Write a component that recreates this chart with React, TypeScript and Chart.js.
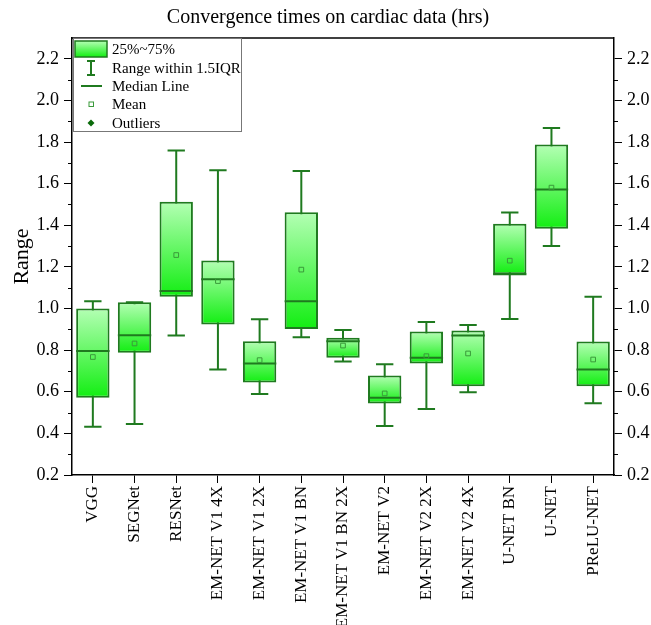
import React, { useEffect, useRef } from "react";
import { Chart, registerables } from "chart.js";

Chart.register(...registerables);

const categories = [
  "VGG", "SEGNet", "RESNet", "EM-NET V1 4X", "EM-NET V1 2X", "EM-NET V1 BN",
  "EM-NET V1 BN 2X", "EM-NET V2", "EM-NET V2 2X", "EM-NET V2 4X", "U-NET BN", "U-NET", "PReLU-NET",
];
const whiskerLow = [0.432, 0.445, 0.870, 0.707, 0.589, 0.862, 0.745, 0.436, 0.517, 0.598, 0.95, 1.30, 0.545];
const q1 = [0.571, 0.788, 1.057, 0.923, 0.645, 0.902, 0.763, 0.544, 0.736, 0.627, 1.165, 1.383, 0.627];
const medians = [0.796, 0.871, 1.084, 1.141, 0.736, 1.035, 0.843, 0.571, 0.763, 0.870, 1.165, 1.572, 0.707];
const means = [0.767, 0.832, 1.257, 1.132, 0.752, 1.187, 0.822, 0.592, 0.771, 0.784, 1.23, 1.581, 0.755];
const q3 = [1.0, 1.03, 1.513, 1.231, 0.843, 1.463, 0.860, 0.678, 0.889, 0.894, 1.407, 1.788, 0.841];
const whiskerHigh = [1.035, 1.03, 1.759, 1.664, 0.948, 1.661, 0.897, 0.732, 0.935, 0.921, 1.461, 1.868, 1.057];
const yTicks = [0.2, 0.4, 0.6, 0.8, 1.0, 1.2, 1.4, 1.6, 1.8, 2.0, 2.2];
const legendLabels = ["25%~75%", "Range within 1.5IQR", "Median Line", "Mean", "Outliers"];
const titleText = "Convergence times on cardiac data (hrs)";

const SERIF = "'Liberation Serif', 'Times New Roman', serif";
const DARK = "#1f7a1f";
const TOP_COLOR = "#b4ffb4";
const BOTTOM_COLOR = "#12ee12";

export default function App() {
  const ref = useRef<HTMLCanvasElement | null>(null);

  useEffect(() => {
    const canvas = ref.current;
    if (!canvas) return;

    const boxPlugin = {
      id: "boxParts",
      beforeDatasetsDraw(chart: any) {
        const { ctx, scales } = chart;
        const meta = chart.getDatasetMeta(0);
        ctx.save();
        ctx.strokeStyle = DARK;
        ctx.lineWidth = 2;
        categories.forEach((_, i) => {
          const el = meta.data[i];
          const x = el.x;
          const half = el.width * 0.26;
          const yl = scales.y.getPixelForValue(whiskerLow[i]);
          const yh = scales.y.getPixelForValue(whiskerHigh[i]);
          ctx.beginPath();
          ctx.moveTo(x, yl);
          ctx.lineTo(x, yh);
          ctx.moveTo(x - half, yl);
          ctx.lineTo(x + half, yl);
          ctx.moveTo(x - half, yh);
          ctx.lineTo(x + half, yh);
          ctx.stroke();
        });
        ctx.restore();
      },
      afterDatasetDraw(chart: any, args: any) {
        if (args.index !== 0) return;
        const { ctx, scales } = chart;
        const meta = chart.getDatasetMeta(0);
        ctx.save();
        ctx.strokeStyle = DARK;
        ctx.lineWidth = 2;
        categories.forEach((_, i) => {
          const el = meta.data[i];
          const y = scales.y.getPixelForValue(medians[i]);
          ctx.beginPath();
          ctx.moveTo(el.x - el.width / 2, y);
          ctx.lineTo(el.x + el.width / 2, y);
          ctx.stroke();
        });
        ctx.restore();
      },
      afterDraw(chart: any) {
        const { ctx, chartArea, scales } = chart;
        ctx.save();
        // top border
        ctx.strokeStyle = "#000";
        ctx.lineWidth = 1.5;
        ctx.beginPath();
        ctx.moveTo(chartArea.left, chartArea.top);
        ctx.lineTo(chartArea.right, chartArea.top);
        ctx.stroke();
        // minor ticks
        ctx.lineWidth = 1;
        for (let k = 0; k < yTicks.length - 1; k++) {
          const v = (yTicks[k] + yTicks[k + 1]) / 2;
          const y = Math.round(scales.y.getPixelForValue(v)) + 0.5;
          ctx.beginPath();
          ctx.moveTo(chartArea.left - 4, y);
          ctx.lineTo(chartArea.left, y);
          ctx.moveTo(chartArea.right, y);
          ctx.lineTo(chartArea.right + 4, y);
          ctx.stroke();
        }
        // title
        ctx.fillStyle = "#000";
        ctx.font = `20px ${SERIF}`;
        ctx.textAlign = "center";
        ctx.textBaseline = "middle";
        ctx.fillText(titleText, 328, 18);

        // legend
        const lx = chartArea.left + 1, ly = chartArea.top, lw = 168, lh = 93;
        ctx.fillStyle = "#fff";
        ctx.fillRect(lx, ly, lw, lh);
        ctx.strokeStyle = "#777";
        ctx.lineWidth = 1;
        ctx.strokeRect(lx + 0.5, ly + 0.5, lw, lh);

        const rows = [49, 68, 86, 104, 123];
        const ix = 91;
        // swatch
        const g = ctx.createLinearGradient(0, 41, 0, 57);
        g.addColorStop(0, TOP_COLOR);
        g.addColorStop(1, BOTTOM_COLOR);
        ctx.fillStyle = g;
        ctx.fillRect(75, 41, 32, 16);
        ctx.strokeStyle = DARK;
        ctx.lineWidth = 1.5;
        ctx.strokeRect(75, 41, 32, 16);
        // whisker icon
        ctx.lineWidth = 2;
        ctx.beginPath();
        ctx.moveTo(ix, 61);
        ctx.lineTo(ix, 75);
        ctx.moveTo(ix - 4, 61);
        ctx.lineTo(ix + 4, 61);
        ctx.moveTo(ix - 4, 75);
        ctx.lineTo(ix + 4, 75);
        ctx.stroke();
        // median
        ctx.beginPath();
        ctx.moveTo(81, rows[2]);
        ctx.lineTo(102, rows[2]);
        ctx.stroke();
        // mean
        ctx.strokeStyle = "#3a9a3a";
        ctx.lineWidth = 1;
        ctx.strokeRect(ix - 2, rows[3] - 2, 4.5, 4.5);
        // outlier diamond
        ctx.fillStyle = "#0a6a0a";
        ctx.beginPath();
        ctx.moveTo(ix, rows[4] - 3.5);
        ctx.lineTo(ix + 3.5, rows[4]);
        ctx.lineTo(ix, rows[4] + 3.5);
        ctx.lineTo(ix - 3.5, rows[4]);
        ctx.closePath();
        ctx.fill();

        ctx.fillStyle = "#000";
        ctx.font = `15px ${SERIF}`;
        ctx.textAlign = "left";
        ctx.textBaseline = "middle";
        legendLabels.forEach((t, k) => ctx.fillText(t, 112, rows[k] + 1));
        ctx.restore();
      },
    };

    const yCommon = {
      type: "linear" as const,
      min: 0.2,
      max: 2.3,
      afterBuildTicks: (scale: any) => {
        scale.ticks = yTicks.map((v) => ({ value: v }));
      },
      ticks: {
        font: { family: SERIF, size: 18 },
        color: "#000",
        padding: 5,
        callback: (v: any) => Number(v).toFixed(1),
      },
      grid: {
        drawOnChartArea: false,
        drawTicks: true,
        tickLength: 8,
        tickColor: "#000",
        tickWidth: 1,
      },
      border: { display: true, color: "#000", width: 1.5 },
    };

    const chart = new Chart(canvas, {
      type: "bar",
      data: {
        labels: categories,
        datasets: [
          {
            type: "bar",
            order: 1,
            data: q1.map((v, i) => [v, q3[i]]) as any,
            backgroundColor: (c: any) => {
              const ch = c.chart;
              if (c.type !== "data" || !ch.chartArea || !ch.scales.y) return "#60f060";
              const i = c.dataIndex;
              const yTop = ch.scales.y.getPixelForValue(q3[i]);
              const yBot = ch.scales.y.getPixelForValue(q1[i]);
              const g = ch.ctx.createLinearGradient(0, yTop, 0, yBot);
              g.addColorStop(0, TOP_COLOR);
              g.addColorStop(1, BOTTOM_COLOR);
              return g;
            },
            borderColor: DARK,
            borderWidth: 2,
            borderSkipped: false,
            barPercentage: 1,
            categoryPercentage: 0.8,
            yAxisID: "y",
          } as any,
          {
            type: "line",
            order: 0,
            data: means,
            showLine: false,
            pointStyle: "rect",
            pointRadius: 3.3,
            pointBorderWidth: 1,
            pointBorderColor: "#3a9a3a",
            pointBackgroundColor: "rgba(0,0,0,0)",
            yAxisID: "y",
          } as any,
        ],
      },
      options: {
        responsive: false,
        animation: false,
        events: [],
        layout: { padding: { top: 38, left: 0, right: 0, bottom: 0 } },
        plugins: {
          legend: { display: false },
          tooltip: { enabled: false },
          title: { display: false },
        },
        scales: {
          x: {
            type: "category",
            offset: true,
            afterFit: (scale: any) => {
              scale.height = 150;
            },
            ticks: {
              font: { family: SERIF, size: 17 },
              color: "#000",
              minRotation: 90,
              maxRotation: 90,
              autoSkip: false,
              padding: 3,
            },
            grid: {
              offset: false,
              drawOnChartArea: false,
              drawTicks: true,
              tickLength: 8,
              tickColor: "#000",
            },
            border: { display: true, color: "#000", width: 1.5 },
          },
          y: {
            ...yCommon,
            position: "left",
            afterFit: (scale: any) => {
              scale.width = 72;
            },
            title: {
              display: true,
              text: "Range",
              font: { family: SERIF, size: 22 },
              color: "#000",
              padding: { top: 9, bottom: 0 },
            },
          },
          y2: {
            ...yCommon,
            position: "right",
            afterFit: (scale: any) => {
              scale.width = 37;
            },
          },
        } as any,
      },
      plugins: [boxPlugin],
    });

    return () => chart.destroy();
  }, []);

  return (
    <div style={{ position: "fixed", left: 0, top: 0, width: 651, height: 625, background: "#fff" }}>
      <canvas ref={ref} width={651} height={625} style={{ display: "block" }} />
    </div>
  );
}
